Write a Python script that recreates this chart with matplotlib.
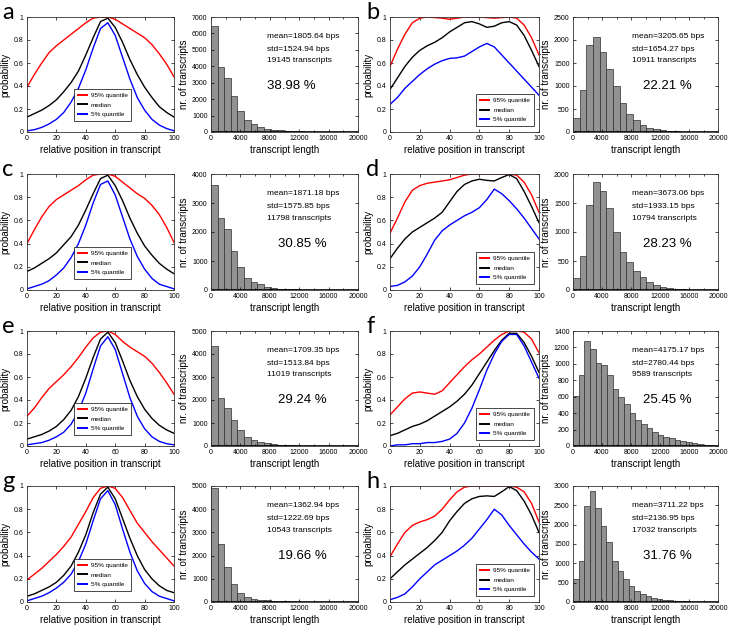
"""Positional probability profiles and transcript length histograms, panels a-h."""

import numpy as np
import matplotlib.pyplot as plt
from matplotlib.ticker import MultipleLocator

plt.rcParams['font.family'] = ['Liberation Sans', 'DejaVu Sans']

# relative position in transcript (%)
pos = list(range(0, 101, 5))

# quantile curves per panel: 95% quantile, median, 5% quantile
q95_a = [0.39, 0.50, 0.60, 0.69, 0.75, 0.80, 0.85, 0.90, 0.95, 0.99, 1.00,
         1.00, 0.98, 0.94, 0.90, 0.86, 0.82, 0.76, 0.68, 0.59, 0.48]
med_a = [0.13, 0.16, 0.19, 0.23, 0.28, 0.35, 0.43, 0.53, 0.67, 0.82, 0.96,
         0.99, 0.91, 0.78, 0.63, 0.50, 0.39, 0.30, 0.22, 0.17, 0.13]
q05_a = [0.01, 0.02, 0.04, 0.07, 0.11, 0.17, 0.26, 0.38, 0.54, 0.73, 0.90,
         0.95, 0.84, 0.65, 0.46, 0.30, 0.19, 0.11, 0.06, 0.03, 0.01]

q95_b = [0.57, 0.72, 0.85, 0.95, 0.99, 1.00, 0.995, 0.99, 0.98, 0.99, 1.00,
         1.00, 1.00, 0.995, 0.99, 0.995, 1.00, 0.99, 0.93, 0.82, 0.67]
med_b = [0.37, 0.47, 0.57, 0.65, 0.71, 0.75, 0.78, 0.82, 0.87, 0.91, 0.95,
         0.96, 0.94, 0.91, 0.92, 0.95, 0.96, 0.93, 0.84, 0.71, 0.57]
q05_b = [0.24, 0.30, 0.38, 0.44, 0.50, 0.55, 0.59, 0.62, 0.64, 0.645, 0.66,
         0.70, 0.74, 0.77, 0.74, 0.67, 0.60, 0.53, 0.46, 0.39, 0.32]

q95_c = [0.40, 0.52, 0.63, 0.72, 0.78, 0.82, 0.86, 0.90, 0.95, 0.99, 1.00,
         1.00, 0.98, 0.93, 0.88, 0.83, 0.79, 0.73, 0.65, 0.54, 0.41]
med_c = [0.16, 0.19, 0.23, 0.27, 0.32, 0.39, 0.46, 0.56, 0.69, 0.83, 0.96,
         0.99, 0.90, 0.77, 0.62, 0.49, 0.38, 0.30, 0.23, 0.18, 0.14]
q05_c = [0.01, 0.03, 0.05, 0.08, 0.13, 0.19, 0.28, 0.40, 0.56, 0.75, 0.91,
         0.94, 0.82, 0.63, 0.44, 0.29, 0.18, 0.10, 0.05, 0.03, 0.01]

q95_d = [0.49, 0.62, 0.76, 0.86, 0.90, 0.92, 0.93, 0.94, 0.95, 0.97, 0.99,
         1.00, 1.00, 1.00, 1.00, 1.00, 1.00, 0.99, 0.93, 0.82, 0.67]
med_d = [0.27, 0.36, 0.44, 0.50, 0.54, 0.58, 0.62, 0.67, 0.76, 0.85, 0.91,
         0.94, 0.955, 0.945, 0.94, 0.97, 0.995, 0.96, 0.85, 0.72, 0.58]
q05_d = [0.03, 0.04, 0.07, 0.12, 0.20, 0.31, 0.43, 0.51, 0.56, 0.60, 0.64,
         0.67, 0.71, 0.78, 0.87, 0.83, 0.77, 0.70, 0.62, 0.53, 0.44]

q95_e = [0.26, 0.33, 0.42, 0.50, 0.56, 0.62, 0.69, 0.77, 0.86, 0.94, 0.99,
         1.00, 0.97, 0.91, 0.86, 0.82, 0.78, 0.72, 0.64, 0.55, 0.45]
med_e = [0.06, 0.08, 0.10, 0.13, 0.17, 0.23, 0.31, 0.43, 0.59, 0.77, 0.93,
         0.99, 0.90, 0.74, 0.57, 0.43, 0.32, 0.24, 0.18, 0.14, 0.11]
q05_e = [0.01, 0.02, 0.03, 0.05, 0.08, 0.12, 0.19, 0.30, 0.46, 0.67, 0.87,
         0.95, 0.84, 0.63, 0.42, 0.26, 0.15, 0.08, 0.04, 0.02, 0.01]

q95_f = [0.27, 0.34, 0.41, 0.46, 0.47, 0.46, 0.45, 0.48, 0.55, 0.62, 0.69,
         0.75, 0.80, 0.86, 0.92, 0.97, 1.00, 1.00, 0.99, 0.93, 0.81]
med_f = [0.09, 0.11, 0.14, 0.17, 0.19, 0.22, 0.26, 0.30, 0.34, 0.39, 0.45,
         0.53, 0.63, 0.73, 0.83, 0.92, 0.98, 0.98, 0.90, 0.78, 0.64]
q05_f = [0.00, 0.01, 0.01, 0.02, 0.02, 0.03, 0.03, 0.04, 0.06, 0.11, 0.20,
         0.33, 0.49, 0.66, 0.80, 0.91, 0.97, 0.97, 0.87, 0.73, 0.59]

q95_g = [0.19, 0.24, 0.29, 0.35, 0.41, 0.48, 0.56, 0.67, 0.78, 0.90, 0.98,
         1.00, 0.98, 0.90, 0.79, 0.68, 0.60, 0.52, 0.45, 0.38, 0.31]
med_g = [0.05, 0.07, 0.10, 0.13, 0.17, 0.23, 0.31, 0.43, 0.58, 0.77, 0.93,
         0.99, 0.89, 0.72, 0.55, 0.40, 0.28, 0.20, 0.14, 0.10, 0.08]
q05_g = [0.01, 0.03, 0.05, 0.08, 0.12, 0.17, 0.24, 0.35, 0.50, 0.70, 0.89,
         0.96, 0.84, 0.63, 0.43, 0.27, 0.16, 0.09, 0.05, 0.03, 0.01]

q95_h = [0.39, 0.50, 0.60, 0.66, 0.69, 0.71, 0.74, 0.80, 0.88, 0.95, 0.99,
         1.00, 1.00, 1.00, 1.00, 1.00, 1.00, 0.99, 0.95, 0.85, 0.69]
med_h = [0.20, 0.26, 0.32, 0.37, 0.42, 0.47, 0.53, 0.60, 0.70, 0.78, 0.85,
         0.89, 0.91, 0.915, 0.91, 0.95, 0.995, 0.96, 0.87, 0.75, 0.60]
q05_h = [0.02, 0.04, 0.07, 0.13, 0.20, 0.26, 0.32, 0.36, 0.40, 0.44, 0.49,
         0.55, 0.63, 0.71, 0.80, 0.75, 0.66, 0.58, 0.50, 0.43, 0.37]

# transcript length histograms (counts per bin, bins start at 0)
counts_a = [6470, 3955, 3286, 2211, 1258, 750, 507, 325, 203, 142, 100, 70,
            50, 35, 25, 20, 15, 10]
counts_b = [313, 911, 1895, 2063, 1750, 1380, 990, 640, 400, 255, 146, 95,
            55, 40, 28, 18, 10, 6]
counts_c = [3620, 2480, 2110, 1350, 800, 420, 280, 190, 120, 80, 50, 30,
            20, 12, 8]
counts_d = [207, 590, 1470, 1856, 1713, 1414, 994, 650, 489, 333, 218, 144,
            86, 57, 40, 25, 15, 8]
counts_e = [4335, 2095, 1660, 1127, 694, 405, 260, 173, 116, 87, 60, 40, 30,
            20, 15, 10]
counts_f = [607, 862, 1275, 1178, 1012, 984, 862, 688, 591, 506, 397, 316,
            267, 215, 174, 134, 113, 93, 73, 61, 49, 35, 25, 15, 10]
counts_g = [4930, 2520, 1513, 793, 389, 216, 144, 100, 70, 50, 35, 25, 15, 10]
counts_h = [600, 1060, 2470, 2860, 2440, 1965, 1550, 1060, 790, 586, 414,
            293, 207, 147, 103, 78, 60, 43, 30, 20, 15, 10]
bin_widths = [900, 920, 900, 920, 900, 780, 900, 770]

panel_labels = ['a', 'b', 'c', 'd', 'e', 'f', 'g', 'h']
means = [1805.64, 3205.65, 1871.18, 3673.06, 1709.35, 4175.17, 1362.94, 3711.22]
stds = [1524.94, 1654.27, 1575.85, 1933.15, 1513.84, 2780.44, 1222.69, 2136.95]
n_transcripts = [19145, 10911, 11798, 10794, 11019, 9589, 10543, 17032]
percents = [38.98, 22.21, 30.85, 28.23, 29.24, 25.45, 19.66, 31.76]
hist_ymax = [7000, 2500, 4000, 2000, 5000, 1400, 5000, 3000]
hist_ystep = [1000, 500, 1000, 500, 1000, 200, 1000, 500]

q95_all = [q95_a, q95_b, q95_c, q95_d, q95_e, q95_f, q95_g, q95_h]
med_all = [med_a, med_b, med_c, med_d, med_e, med_f, med_g, med_h]
q05_all = [q05_a, q05_b, q05_c, q05_d, q05_e, q05_f, q05_g, q05_h]
counts_all = [counts_a, counts_b, counts_c, counts_d,
              counts_e, counts_f, counts_g, counts_h]

W, H = 730, 626
fig = plt.figure(figsize=(W / 100, H / 100), dpi=100)

# pixel layout of the grid
line_cols = [(27, 174), (390, 539)]
hist_cols = [(211, 358), (573, 718)]
rows = [(17, 132), (174, 290), (331, 446), (486, 602)]
letter_x = [2, 366]


def add_px_axes(x0, x1, y0, y1):
    return fig.add_axes([x0 / W, 1 - y1 / H, (x1 - x0) / W, (y1 - y0) / H])


def style_axes(ax):
    ax.tick_params(direction='in', top=True, right=True, labelsize=5,
                   length=2.5, width=0.5, pad=2.5)
    ax.tick_params(which='minor', direction='in', top=True, right=True,
                   length=1.5, width=0.5)
    for sp in ax.spines.values():
        sp.set_linewidth(0.6)
        sp.set_color('#333333')


for i, letter in enumerate(panel_labels):
    r, c = divmod(i, 2)
    y0, y1 = rows[r]

    # quantile profile
    ax = add_px_axes(*line_cols[c], y0, y1)
    ax.plot(pos, q95_all[i], color='#ff0000', lw=1.0, label='95% quantile')
    ax.plot(pos, med_all[i], color='black', lw=1.0, label='median')
    ax.plot(pos, q05_all[i], color='#0000ff', lw=1.0, label='5% quantile')
    ax.set_xlim(0, 100)
    ax.set_ylim(0, 1)
    ax.set_xticks(range(0, 101, 20))
    ax.set_yticks([0, 0.2, 0.4, 0.6, 0.8, 1])
    ax.set_yticklabels(['0', '0.2', '0.4', '0.6', '0.8', '1'])
    style_axes(ax)
    ax.set_xlabel('relative position in transcript', fontsize=7, labelpad=2)
    ax.set_ylabel('probability', fontsize=7, labelpad=2)
    if c == 0:
        leg = ax.legend(loc='lower center', bbox_to_anchor=(0.515, 0.07),
                        fontsize=4.6, handlelength=1.5, borderpad=0.55,
                        labelspacing=0.65, handletextpad=0.6)
    else:
        leg = ax.legend(loc='lower right', bbox_to_anchor=(0.985, 0.025),
                        fontsize=4.6, handlelength=1.5, borderpad=0.55,
                        labelspacing=0.65, handletextpad=0.6)
    leg.get_frame().set_boxstyle('square', pad=0)
    leg.get_frame().set_edgecolor('black')
    leg.get_frame().set_linewidth(0.5)
    leg.get_frame().set_alpha(1)
    for ln in leg.get_lines():
        ln.set_linewidth(1.4)

    # length histogram
    hx = add_px_axes(*hist_cols[c], y0, y1)
    counts = counts_all[i]
    edges = np.arange(len(counts)) * bin_widths[i]
    hx.bar(edges, counts, width=bin_widths[i], align='edge',
           color='#929292', edgecolor='#2e2e2e', linewidth=0.5)
    hx.axhline(0, color='black', lw=1.2)
    hx.set_xlim(0, 20000)
    hx.set_ylim(0, hist_ymax[i])
    hx.set_xticks(range(0, 20001, 4000))
    hx.xaxis.set_minor_locator(MultipleLocator(2000))
    hx.yaxis.set_major_locator(MultipleLocator(hist_ystep[i]))
    style_axes(hx)
    hx.set_xlabel('transcript length', fontsize=7, labelpad=2)
    hx.set_ylabel('nr. of transcripts', fontsize=7, labelpad=2)

    tx = 0.38 if c == 0 else 0.405
    hx.text(tx, 0.83, f'mean={means[i]:.2f} bps', transform=hx.transAxes,
            fontsize=6, va='center')
    hx.text(tx, 0.72, f'std={stds[i]:.2f} bps', transform=hx.transAxes,
            fontsize=6, va='center')
    hx.text(tx, 0.62, f'{n_transcripts[i]} transcripts',
            transform=hx.transAxes, fontsize=6, va='center')
    px = 0.38 if i == 0 else (0.455 if c == 0 else 0.48)
    hx.text(px, 0.40, f'{percents[i]:.2f} %', transform=hx.transAxes,
            fontsize=9.5, va='center')

    fig.text(letter_x[c] / W, 1 - (y0 + 2) / H, letter, fontsize=17,
             family=['Lato', 'DejaVu Sans'], va='baseline', ha='left')

fig.savefig('out.png', dpi=100)
